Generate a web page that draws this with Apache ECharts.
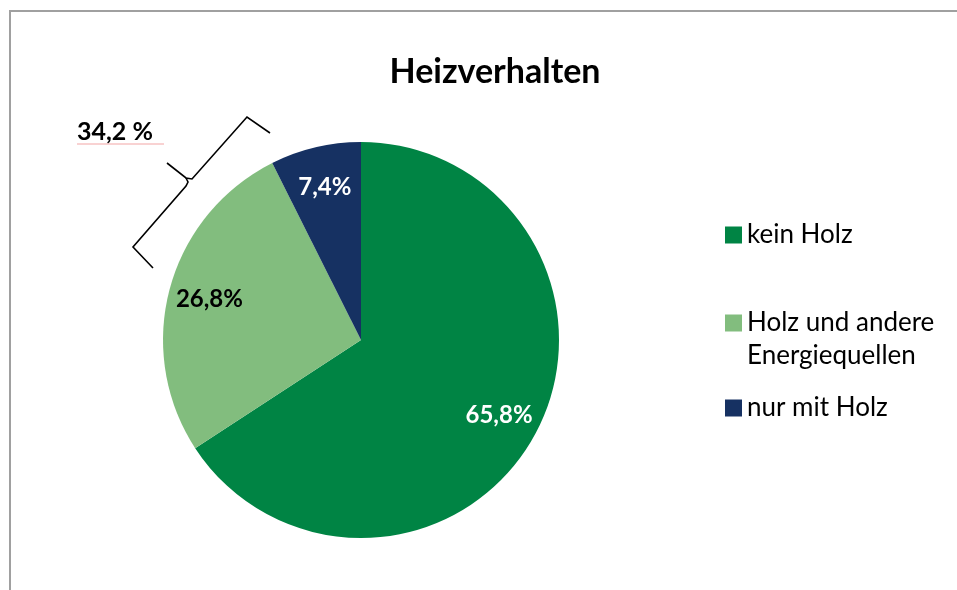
<!DOCTYPE html>
<html>
<head>
<meta charset="utf-8">
<script src="https://cdn.jsdelivr.net/npm/echarts@6/dist/echarts.min.js"></script>
<style>
  html, body { margin: 0; padding: 0; background: #fff; }
  #chart { width: 957px; height: 590px; }
</style>
</head>
<body>
<div id="chart"></div>
<script>
// Daten
const categories = ['kein Holz', 'Holz und andere Energiequellen', 'nur mit Holz'];
const values = [65.8, 26.8, 7.4];
const colors = ['#008444', '#82bd7e', '#163162'];
const labelColors = ['#fff', '#000', '#fff'];

const fmt = v => v.toFixed(1).replace('.', ',');
const holzSum = values[1] + values[2];

const FONT = 'Lato, "Noto Sans", sans-serif';
const R = 198;
const LH = 33;

const pieData = categories.map((name, i) => ({
  name: name,
  value: values[i],
  itemStyle: { color: colors[i] }
}));

const labelData = categories.map((name, i) => ({
  name: name,
  value: values[i],
  itemStyle: { color: 'rgba(0,0,0,0)' },
  label: { color: labelColors[i] }
}));

function legendFor(name, top, extra) {
  return Object.assign({
    orient: 'vertical',
    left: 725,
    top: top,
    padding: 0,
    data: [name],
    icon: 'rect',
    itemWidth: 17,
    itemHeight: 17,
    itemGap: 0,
    selectedMode: false,
    textStyle: {
      fontFamily: FONT, fontSize: 26, color: '#000', lineHeight: LH,
      rich: { s: { fontSize: 26, lineHeight: LH }, t: { fontFamily: FONT, fontSize: 26, lineHeight: LH } }
    }
  }, extra || {});
}

const chart = echarts.init(document.getElementById('chart'));
chart.setOption({
  backgroundColor: '#fff',
  animation: false,
  title: {
    text: 'Heizverhalten',
    left: 490,
    top: 50,
    textAlign: 'center',
    textStyle: { fontFamily: FONT, fontSize: 34, fontWeight: 'bold', color: '#000' }
  },
  legend: [
    legendFor(categories[0], 235 - LH / 2),
    legendFor(categories[1], 323 - LH * 1.5, {
      // erste Zeile auf Höhe des Symbols, zweite darunter
      formatter: () => '{s| }\n{t|Holz und andere}\n{t|Energiequellen}'
    }),
    legendFor(categories[2], 408 - LH / 2)
  ],
  series: [
    {
      type: 'pie',
      center: [361, 340],
      radius: R,
      startAngle: 90,
      clockwise: true,
      silent: true,
      label: { show: false },
      labelLine: { show: false },
      itemStyle: { borderWidth: 0 },
      data: pieData
    },
    {
      type: 'pie',
      center: [361, 340],
      radius: [110, R],
      startAngle: 90,
      clockwise: true,
      silent: true,
      z: 3,
      label: {
        show: true,
        position: 'inside',
        fontFamily: FONT,
        fontSize: 24,
        fontWeight: 'bold',
        formatter: p => fmt(p.value) + '%'
      },
      labelLine: { show: false },
      itemStyle: { borderWidth: 0 },
      data: labelData
    }
  ],
  graphic: [
    {
      type: 'rect',
      shape: { x: 10, y: 11, width: 960, height: 600 },
      style: { fill: 'none', stroke: '#a0a0a0', lineWidth: 2 },
      silent: true
    },
    {
      type: 'polyline',
      shape: { points: [[270, 133], [247, 117], [192, 179], [186, 178], [167, 163]] },
      style: { fill: 'none', stroke: '#000', lineWidth: 1.6 },
      silent: true
    },
    {
      type: 'polyline',
      shape: { points: [[186, 178], [188, 182], [186, 186], [133, 247], [153, 268]] },
      style: { fill: 'none', stroke: '#000', lineWidth: 1.6 },
      silent: true
    },
    {
      type: 'text',
      left: 77,
      top: 119,
      style: {
        text: fmt(holzSum) + ' %',
        font: 'bold 25px ' + FONT,
        fill: '#000'
      }
    },
    {
      type: 'line',
      shape: { x1: 77, y1: 144, x2: 164, y2: 144 },
      style: { stroke: '#f2a5a5', lineWidth: 1 },
      silent: true
    }
  ]
});
</script>
</body>
</html>
